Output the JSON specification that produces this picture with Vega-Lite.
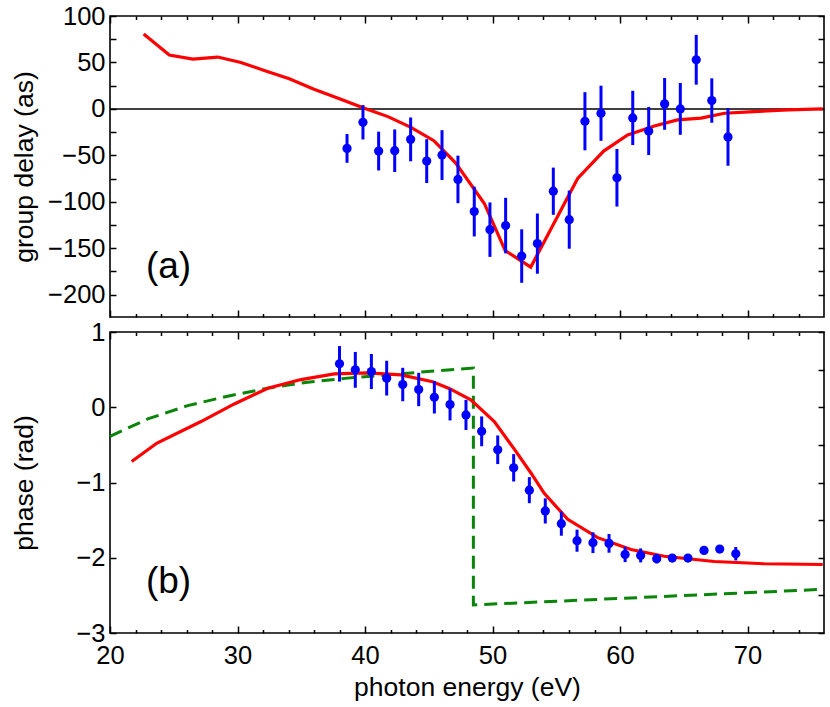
{
  "$schema": "https://vega.github.io/schema/vega-lite/v6.json",
  "padding": {"left": 10, "top": 3, "right": 7, "bottom": 3},
  "datasets": {
    "redA": [
      {"e": 22.64, "v": 80.7}, {"e": 24.65, "v": 58}, {"e": 26.5, "v": 53.6}, {"e": 28.45, "v": 55.8},
      {"e": 30.27, "v": 50}, {"e": 32.1, "v": 41.4}, {"e": 34.06, "v": 32.4}, {"e": 36.0, "v": 21.2},
      {"e": 38.0, "v": 10.8}, {"e": 39.95, "v": 0.7}, {"e": 41.8, "v": -8.3}, {"e": 43.6, "v": -19.8},
      {"e": 45.4, "v": -34.2}, {"e": 47.1, "v": -58}, {"e": 49.36, "v": -101.8}, {"e": 51.0, "v": -152.5},
      {"e": 53.0, "v": -170.3}, {"e": 56.68, "v": -74.9}, {"e": 58.72, "v": -45.4}, {"e": 60.6, "v": -28.1},
      {"e": 62.7, "v": -18.4}, {"e": 64.5, "v": -11.9}, {"e": 66.35, "v": -10}, {"e": 68.2, "v": -4.7},
      {"e": 70.5, "v": -2.9}, {"e": 73.2, "v": -1}, {"e": 75.9, "v": 0}
    ],
    "ptsA": [
      {"e": 38.59, "v": -42.5, "err": 15.5}, {"e": 39.84, "v": -14.4, "err": 18.5},
      {"e": 41.07, "v": -45.4, "err": 20.9}, {"e": 42.33, "v": -45, "err": 22.9},
      {"e": 43.58, "v": -32.8, "err": 23.6}, {"e": 44.84, "v": -56.2, "err": 23.6},
      {"e": 46.04, "v": -49.7, "err": 26.8}, {"e": 47.29, "v": -75.9, "err": 25.6},
      {"e": 48.57, "v": -110.5, "err": 26.8}, {"e": 49.8, "v": -130, "err": 29.3},
      {"e": 51.03, "v": -125.6, "err": 29.9}, {"e": 52.29, "v": -158.4, "err": 28.8},
      {"e": 53.52, "v": -145, "err": 32.4}, {"e": 54.77, "v": -88.6, "err": 25.4},
      {"e": 56.02, "v": -119.2, "err": 31.3}, {"e": 57.25, "v": -13.3, "err": 31.3},
      {"e": 58.51, "v": -4.7, "err": 29.7}, {"e": 59.76, "v": -74.1, "err": 31},
      {"e": 61.0, "v": -9.7, "err": 29.2}, {"e": 62.25, "v": -23.8, "err": 25.9},
      {"e": 63.5, "v": 5.4, "err": 27.9}, {"e": 64.73, "v": 0, "err": 27.9},
      {"e": 65.98, "v": 52.9, "err": 26.8}, {"e": 67.2, "v": 9, "err": 23.9},
      {"e": 68.47, "v": -30.2, "err": 31}
    ],
    "redB": [
      {"e": 21.7, "v": -0.72}, {"e": 23.69, "v": -0.476}, {"e": 27.14, "v": -0.19}, {"e": 29.75, "v": 0.044},
      {"e": 32.37, "v": 0.253}, {"e": 34.98, "v": 0.368}, {"e": 37.6, "v": 0.444}, {"e": 40.2, "v": 0.457},
      {"e": 42.82, "v": 0.43}, {"e": 45.3, "v": 0.34}, {"e": 46.6, "v": 0.25}, {"e": 48.3, "v": 0.1},
      {"e": 50.14, "v": -0.19}, {"e": 51.71, "v": -0.556}, {"e": 53.0, "v": -0.87}, {"e": 54.06, "v": -1.143},
      {"e": 55.9, "v": -1.49}, {"e": 58.25, "v": -1.733}, {"e": 60.86, "v": -1.89}, {"e": 63.47, "v": -1.98},
      {"e": 67.4, "v": -2.05}, {"e": 71.3, "v": -2.08}, {"e": 75.9, "v": -2.09}
    ],
    "greenB": [
      {"i": 1, "e": 20.0, "v": -0.387}, {"i": 2, "e": 22.96, "v": -0.155}, {"i": 3, "e": 26.1, "v": 0.022},
      {"i": 4, "e": 29.23, "v": 0.147}, {"i": 5, "e": 32.37, "v": 0.253}, {"i": 6, "e": 35.5, "v": 0.333},
      {"i": 7, "e": 38.64, "v": 0.387}, {"i": 8, "e": 41.78, "v": 0.43}, {"i": 9, "e": 44.92, "v": 0.475},
      {"i": 10, "e": 48.5, "v": 0.52}, {"i": 11, "e": 48.5, "v": -2.627}, {"i": 12, "e": 75.9, "v": -2.42}
    ],
    "ptsB": [
      {"e": 38.0, "v": 0.577, "err": 0.236}, {"e": 39.24, "v": 0.497, "err": 0.238},
      {"e": 40.5, "v": 0.475, "err": 0.233}, {"e": 41.7, "v": 0.387, "err": 0.231},
      {"e": 42.96, "v": 0.302, "err": 0.222}, {"e": 44.21, "v": 0.236, "err": 0.222},
      {"e": 45.44, "v": 0.133, "err": 0.216}, {"e": 46.67, "v": 0.036, "err": 0.211},
      {"e": 47.92, "v": -0.102, "err": 0.2}, {"e": 49.15, "v": -0.32, "err": 0.198},
      {"e": 50.41, "v": -0.565, "err": 0.19}, {"e": 51.66, "v": -0.805, "err": 0.182},
      {"e": 52.89, "v": -1.102, "err": 0.173}, {"e": 54.14, "v": -1.378, "err": 0.167},
      {"e": 55.4, "v": -1.547, "err": 0.16}, {"e": 56.63, "v": -1.773, "err": 0.147},
      {"e": 57.88, "v": -1.8, "err": 0.138}, {"e": 59.14, "v": -1.809, "err": 0.124},
      {"e": 60.4, "v": -1.956, "err": 0.102}, {"e": 61.62, "v": -1.969, "err": 0.093},
      {"e": 62.88, "v": -2.013, "err": 0.062}, {"e": 64.1, "v": -2.004, "err": 0.03},
      {"e": 65.33, "v": -2.004, "err": 0.02}, {"e": 66.59, "v": -1.902, "err": 0.02},
      {"e": 67.82, "v": -1.884, "err": 0.02}, {"e": 69.08, "v": -1.947, "err": 0.089}
    ]
  },
  "vconcat": [
    {
      "width": 714,
      "height": 301,
      "layer": [
        {
          "data": {"values": [{"v": 0}]},
          "mark": {"type": "rule", "color": "black", "strokeWidth": 1.5},
          "encoding": {
            "y": {"field": "v", "type": "quantitative", "scale": {"domain": [-224, 100], "nice": false, "zero": false}, "axis": null}
          }
        },
        {
          "data": {"name": "redA"},
          "mark": {"type": "line", "color": "#ff0000", "strokeWidth": 3.2},
          "encoding": {
            "x": {"field": "e", "type": "quantitative", "scale": {"domain": [20, 76], "nice": false, "zero": false},
                  "axis": {"orient": "bottom", "values": [20, 30, 40, 50, 60, 70], "tickSize": -7, "labels": false, "title": null}},
            "y": {"field": "v", "type": "quantitative", "scale": {"domain": [-224, 100], "nice": false, "zero": false},
                  "axis": {"orient": "left", "values": [-200, -175, -150, -125, -100, -75, -50, -25, 0, 25, 50, 75, 100], "tickSize": -6, "labelPadding": 11, "format": "d",
                           "labelExpr": "datum.value % 50 === 0 ? datum.label : ''", "title": "group delay (as)", "titleX": -72}}
          }
        },
        {
          "data": {"name": "ptsA"},
          "mark": {"type": "errorbar", "ticks": false, "color": "#0000ff", "thickness": 3},
          "encoding": {
            "x": {"field": "e", "type": "quantitative", "scale": {"domain": [20, 76], "nice": false, "zero": false},
                  "axis": {"orient": "top", "values": [20, 30, 40, 50, 60, 70], "tickSize": -7, "labels": false, "title": null}},
            "y": {"field": "v", "type": "quantitative", "scale": {"domain": [-224, 100], "nice": false, "zero": false},
                  "axis": {"orient": "right", "values": [-200, -175, -150, -125, -100, -75, -50, -25, 0, 25, 50, 75, 100], "tickSize": -6, "labels": false, "title": null}},
            "yError": {"field": "err"}
          }
        },
        {
          "data": {"name": "ptsA"},
          "mark": {"type": "circle", "color": "#0000ff", "size": 85, "opacity": 1},
          "encoding": {
            "x": {"field": "e", "type": "quantitative", "scale": {"domain": [20, 76], "nice": false, "zero": false},
                  "axis": {"orient": "bottom", "values": [22, 24, 26, 28, 32, 34, 36, 38, 42, 44, 46, 48, 52, 54, 56, 58, 62, 64, 66, 68, 72, 74], "tickSize": -3.5, "labels": false, "title": null}},
            "y": {"field": "v", "type": "quantitative", "scale": {"domain": [-224, 100], "nice": false, "zero": false}, "axis": null}
          }
        },
        {
          "data": {"values": [{"x": 22.82, "y": -182.5, "t": "(a)"}]},
          "mark": {"type": "text", "align": "left", "baseline": "alphabetic", "fontSize": 37, "font": "Liberation Sans", "color": "black"},
          "encoding": {
            "x": {"field": "x", "type": "quantitative", "scale": {"domain": [20, 76], "nice": false, "zero": false},
                  "axis": {"orient": "top", "values": [22, 24, 26, 28, 32, 34, 36, 38, 42, 44, 46, 48, 52, 54, 56, 58, 62, 64, 66, 68, 72, 74], "tickSize": -3.5, "labels": false, "title": null}},
            "y": {"field": "y", "type": "quantitative", "scale": {"domain": [-224, 100], "nice": false, "zero": false}, "axis": null},
            "text": {"field": "t"}
          }
        }
      ],
      "resolve": {"scale": {"x": "independent", "y": "independent"}}
    },
    {
      "width": 714,
      "height": 301,
      "layer": [
        {
          "data": {"name": "greenB"},
          "mark": {"type": "line", "color": "#0a850a", "strokeWidth": 3, "strokeDash": [13, 7]},
          "encoding": {
            "x": {"field": "e", "type": "quantitative", "scale": {"domain": [20, 76], "nice": false, "zero": false},
                  "axis": {"orient": "bottom", "values": [20, 30, 40, 50, 60, 70], "tickSize": -7, "labelPadding": 17, "format": "d",
                           "title": "photon energy (eV)", "titlePadding": 6}},
            "y": {"field": "v", "type": "quantitative", "scale": {"domain": [-3, 1], "nice": false, "zero": false},
                  "axis": {"orient": "left", "values": [-3, -2.5, -2, -1.5, -1, -0.5, 0, 0.5, 1], "tickSize": -6, "labelPadding": 11, "format": "d",
                           "labelExpr": "datum.value % 1 === 0 ? datum.label : ''", "title": "phase (rad)", "titleX": -72}},
            "order": {"field": "i", "type": "quantitative"}
          }
        },
        {
          "data": {"name": "redB"},
          "mark": {"type": "line", "color": "#ff0000", "strokeWidth": 3.2},
          "encoding": {
            "x": {"field": "e", "type": "quantitative", "scale": {"domain": [20, 76], "nice": false, "zero": false},
                  "axis": {"orient": "top", "values": [20, 30, 40, 50, 60, 70], "tickSize": -7, "labels": false, "title": null}},
            "y": {"field": "v", "type": "quantitative", "scale": {"domain": [-3, 1], "nice": false, "zero": false},
                  "axis": {"orient": "right", "values": [-3, -2.5, -2, -1.5, -1, -0.5, 0, 0.5, 1], "tickSize": -6, "labels": false, "title": null}}
          }
        },
        {
          "data": {"name": "ptsB"},
          "mark": {"type": "errorbar", "ticks": false, "color": "#0000ff", "thickness": 3},
          "encoding": {
            "x": {"field": "e", "type": "quantitative", "scale": {"domain": [20, 76], "nice": false, "zero": false},
                  "axis": {"orient": "bottom", "values": [22, 24, 26, 28, 32, 34, 36, 38, 42, 44, 46, 48, 52, 54, 56, 58, 62, 64, 66, 68, 72, 74], "tickSize": -3.5, "labels": false, "title": null}},
            "y": {"field": "v", "type": "quantitative", "scale": {"domain": [-3, 1], "nice": false, "zero": false}, "axis": null},
            "yError": {"field": "err"}
          }
        },
        {
          "data": {"name": "ptsB"},
          "mark": {"type": "circle", "color": "#0000ff", "size": 85, "opacity": 1},
          "encoding": {
            "x": {"field": "e", "type": "quantitative", "scale": {"domain": [20, 76], "nice": false, "zero": false},
                  "axis": {"orient": "top", "values": [22, 24, 26, 28, 32, 34, 36, 38, 42, 44, 46, 48, 52, 54, 56, 58, 62, 64, 66, 68, 72, 74], "tickSize": -3.5, "labels": false, "title": null}},
            "y": {"field": "v", "type": "quantitative", "scale": {"domain": [-3, 1], "nice": false, "zero": false}, "axis": null}
          }
        },
        {
          "data": {"values": [{"x": 22.82, "y": -2.47, "t": "(b)"}]},
          "mark": {"type": "text", "align": "left", "baseline": "alphabetic", "fontSize": 37, "font": "Liberation Sans", "color": "black"},
          "encoding": {
            "x": {"field": "x", "type": "quantitative", "scale": {"domain": [20, 76], "nice": false, "zero": false}, "axis": null},
            "y": {"field": "y", "type": "quantitative", "scale": {"domain": [-3, 1], "nice": false, "zero": false}, "axis": null},
            "text": {"field": "t"}
          }
        }
      ],
      "resolve": {"scale": {"x": "independent", "y": "independent"}}
    }
  ],
  "spacing": 15,
  "bounds": "flush",
  "config": {
    "font": "Liberation Sans",
    "view": {"stroke": "black", "strokeWidth": 1.6},
    "axis": {
      "grid": false,
      "domain": false,
      "tickColor": "black",
      "tickWidth": 1.5,
      "labelColor": "black",
      "titleColor": "black",
      "labelFont": "Liberation Sans",
      "titleFont": "Liberation Sans",
      "labelFontSize": 25.5,
      "titleFontSize": 26.5,
      "titleFontWeight": "normal",
      "labelFlush": false,
      "labelOverlap": false,
      "labelBound": false
    }
  }
}
